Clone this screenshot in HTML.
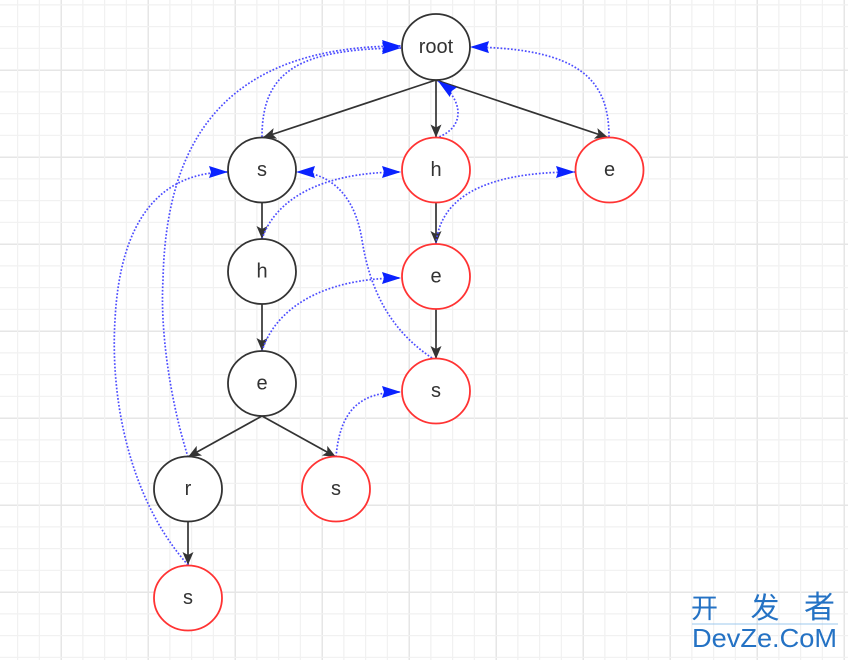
<!DOCTYPE html>
<html><head><meta charset="utf-8"><style>
html,body{margin:0;padding:0;background:#fff;}
svg{display:block;}
</style></head><body>
<svg width="848" height="660" viewBox="0 0 848 660" xmlns="http://www.w3.org/2000/svg">
<defs>
<pattern id="grid" x="60.5" y="69.5" width="87" height="87" patternUnits="userSpaceOnUse">
<rect x="0" y="0" width="1.5" height="87" fill="#e6e6e6"/>
<rect x="0" y="0" width="87" height="1.5" fill="#e6e6e6"/>
<rect x="21.75" y="0" width="1.2" height="87" fill="#f1f1f1"/>
<rect x="43.5" y="0" width="1.2" height="87" fill="#f1f1f1"/>
<rect x="65.25" y="0" width="1.2" height="87" fill="#f1f1f1"/>
<rect x="0" y="21.75" width="87" height="1.2" fill="#f1f1f1"/>
<rect x="0" y="43.5" width="87" height="1.2" fill="#f1f1f1"/>
<rect x="0" y="65.25" width="87" height="1.2" fill="#f1f1f1"/>
</pattern>
<marker id="ab" markerUnits="userSpaceOnUse" markerWidth="14" markerHeight="12" refX="13" refY="5.5" orient="auto" overflow="visible">
<path d="M0,0 L13,5.5 L0,11 L3,5.5 z" fill="#333"/>
</marker>
<marker id="au" markerUnits="userSpaceOnUse" markerWidth="20" markerHeight="13" refX="19" refY="6" orient="auto" overflow="visible">
<path d="M0,0 L19,6 L0,12 L2,6 z" fill="#0a22ff"/>
</marker>
</defs>
<rect width="848" height="660" fill="#fff"/>
<rect width="848" height="660" fill="url(#grid)"/>

<!-- black tree edges -->
<g stroke="#333" stroke-width="1.7" fill="none" marker-end="url(#ab)">
<path d="M436,80 L263,137.5"/>
<path d="M436,80 L436,137.5"/>
<path d="M436,80 L608,137.5"/>
<path d="M262,203 L262,239"/>
<path d="M262,304 L262,351"/>
<path d="M262,416 L188,457"/>
<path d="M262,416 L336,457"/>
<path d="M188,522 L188,565"/>
<path d="M436,203 L436,244"/>
<path d="M436,309 L436,359"/>
</g>

<!-- blue dotted fail links -->
<g stroke="#4c4cff" stroke-width="1.7" stroke-dasharray="1.7 1.8" fill="none" marker-end="url(#au)">
<path d="M262,137 C262,70 300,49 401,48"/>
<path d="M188,457 C170,400 160,330 163,280 C166,140 225,46 401,46"/>
<path d="M188,565 C130,500 110,400 115,320 C120,220 160,172 228,172"/>
<path d="M432,358 C390,330 370,290 362,240 C355,195 330,172 296,172"/>
<path d="M262,239 C275,200 320,172 401,172"/>
<path d="M262,351 C275,310 320,278 401,278"/>
<path d="M436,138 C466,128 464,100 438,81"/>
<path d="M609,137 C609,80 580,48 470,47"/>
<path d="M436,244 C440,200 480,172 575,172"/>
<path d="M336,457 C340,410 360,392 401,392"/>
</g>

<!-- nodes -->
<g fill="#fff" stroke-width="1.8">
<ellipse cx="436" cy="47" rx="34" ry="33" stroke="#333"/>
<ellipse cx="262" cy="170" rx="34" ry="32.5" stroke="#333"/>
<ellipse cx="436" cy="170" rx="34" ry="32.5" stroke="#ff3333"/>
<ellipse cx="609.5" cy="170" rx="34" ry="32.5" stroke="#ff3333"/>
<ellipse cx="262" cy="271.5" rx="34" ry="32.5" stroke="#333"/>
<ellipse cx="436" cy="276.5" rx="34" ry="32.5" stroke="#ff3333"/>
<ellipse cx="262" cy="383.5" rx="34" ry="32.5" stroke="#333"/>
<ellipse cx="436" cy="391" rx="34" ry="32.5" stroke="#ff3333"/>
<ellipse cx="188" cy="489" rx="34" ry="32.5" stroke="#333"/>
<ellipse cx="336" cy="489" rx="34" ry="32.5" stroke="#ff3333"/>
<ellipse cx="188" cy="598" rx="34" ry="32.5" stroke="#ff3333"/>
</g>

<g font-family="Liberation Sans, sans-serif" font-size="20" fill="#333" text-anchor="middle">
<text x="436" y="53">root</text>
<text x="262" y="176">s</text>
<text x="436" y="176">h</text>
<text x="609.5" y="176">e</text>
<text x="262" y="277.5">h</text>
<text x="436" y="282.5">e</text>
<text x="262" y="389.5">e</text>
<text x="436" y="397">s</text>
<text x="188" y="495">r</text>
<text x="336" y="495">s</text>
<text x="188" y="604">s</text>
</g>

<!-- watermark -->
<g fill="#2472c4" font-family="Liberation Sans, 'Noto Sans CJK SC', sans-serif">
<text x="704.5" y="618" font-size="27" text-anchor="middle">开</text>
<text x="765" y="618" font-size="29" text-anchor="middle">发</text>
<text x="819.5" y="618" font-size="31" text-anchor="middle">者</text>
<rect x="692" y="623.5" width="146" height="1" fill="#9cc8ee"/>
<text x="692" y="647" font-size="26" textLength="145" lengthAdjust="spacingAndGlyphs">DevZe.CoM</text>
</g>
</svg>
</body></html>
